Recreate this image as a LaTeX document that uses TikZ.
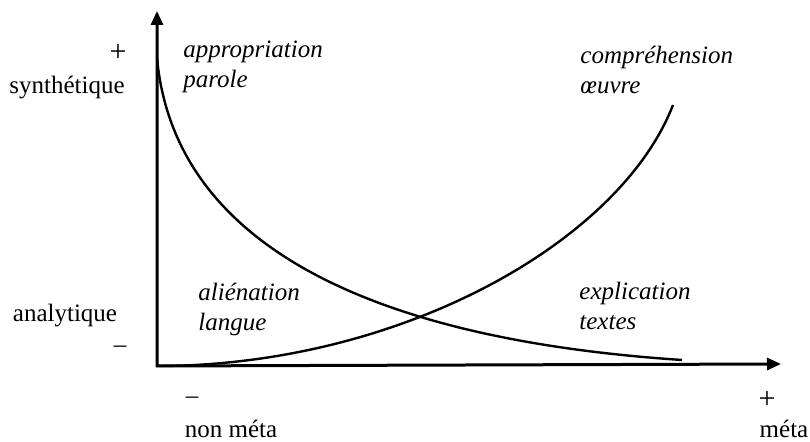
\documentclass[tikz,border=0pt]{standalone}
\usepackage{fontspec}
\setmainfont{Liberation Serif}
\usetikzlibrary{arrows.meta}

\begin{document}
\begin{tikzpicture}[x=0.5pt, y=0.5pt,
    axe/.style={line width=1.5pt, {Triangle[length=7pt,width=6pt]}-{Triangle[length=7pt,width=6pt]}},
    courbe/.style={line width=1.2pt},
    lbl/.style={inner sep=0pt, font=\fontsize{12.5}{15}\selectfont},
    pole/.style={inner sep=0pt, align=left, anchor=west, font=\fontsize{12.5}{15}\selectfont\itshape}]
                \useasboundingbox (0,0) rectangle (810,442);
                \coordinate (O) at (157,76);
                \coordinate (Ytip) at (157,431);
                \coordinate (Xtip) at (781,78);
                \draw[axe] (Ytip) -- (O) -- (Xtip);

                % les deux courbes
                \coordinate (hautG) at (157,384);
                \coordinate (basD) at (682,82);
                \coordinate (hautD) at (673,337);
                \draw[courbe] (hautG) .. controls (174,200) and (365,103) .. (basD);
                \draw[courbe] (O) .. controls (400,76) and (620,200) .. (hautD);

                % axe vertical
                \node[lbl, font=\fontsize{15}{15}\selectfont] (plusY) at (118,389) {+};
                \node[lbl] (synth) at (67,354) {synthétique};
                \node[lbl] (analyt) at (65,126) {analytique};
                \node[lbl] (moinsY) at (120,93) {\textendash};

                % axe horizontal
                \node[lbl] (moinsX) at (192,42) {\textendash};
                \node[lbl] (nonmeta) at (231,13) {non méta};
                \node[lbl, font=\fontsize{15}{15}\selectfont] (plusX) at (767,42) {+};
                \node[lbl] (meta) at (784,13) {méta};

                \node[pole] (appro) at (183,375) {appropriation\\parole};
                \node[pole] (compr) at (580,372) {compréhension\\œuvre};
                \node[pole] (alien) at (198,133) {aliénation\\langue};
                \node[pole] (expli) at (579,136) {explication\\textes};
            \end{tikzpicture}
\end{document}
